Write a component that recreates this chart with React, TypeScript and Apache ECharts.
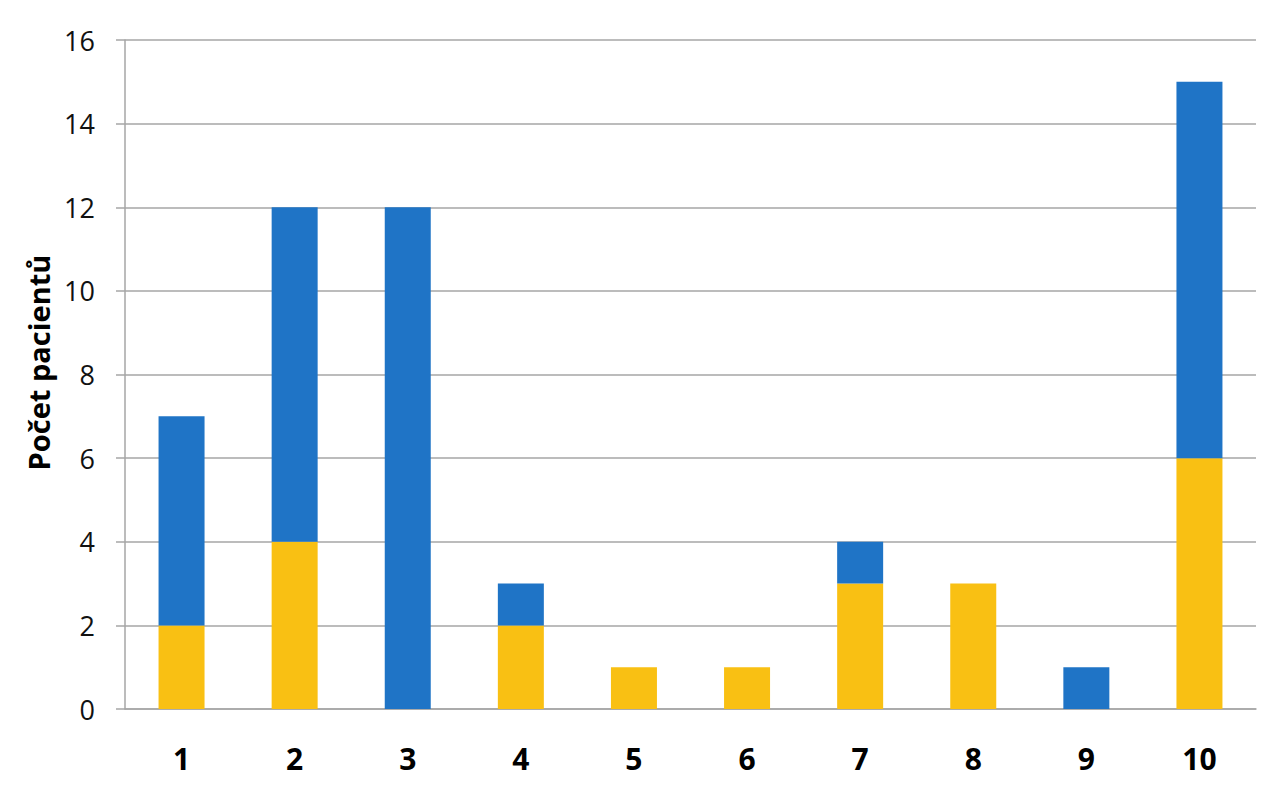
import { useEffect, useRef } from 'react';
import * as echarts from 'echarts';

const categories = ['1', '2', '3', '4', '5', '6', '7', '8', '9', '10'];
const yellowValues = [2, 4, 0, 2, 1, 1, 3, 3, 0, 6];
const blueValues = [5, 8, 12, 1, 0, 0, 1, 0, 1, 9];
const yTicks = { min: 0, max: 16, interval: 2 };

const FONT = '"Open Sans", "Liberation Sans", sans-serif';
const GRAY = '#a6a6a6';

const App = () => {
  const chartRef = useRef<HTMLDivElement>(null);

  useEffect(() => {
    if (!chartRef.current) return;
    const chart = echarts.init(chartRef.current, undefined, { renderer: 'svg' });
    chart.setOption({
      animation: false,
      grid: { left: 125, right: 19, top: 40, bottom: 91 },
      xAxis: {
        type: 'category',
        data: categories,
        axisLine: { lineStyle: { color: GRAY, width: 1.5 } },
        axisTick: { show: false },
        axisLabel: {
          color: '#000',
          fontSize: 30,
          fontWeight: 'bold',
          fontFamily: FONT,
          margin: 34,
        },
      },
      yAxis: {
        type: 'value',
        ...yTicks,
        name: 'Počet pacientů',
        nameLocation: 'middle',
        nameGap: 70,
        nameTextStyle: {
          color: '#000',
          fontSize: 29,
          fontWeight: 'bold',
          fontFamily: FONT,
          padding: [0, 0, 0, 24],
        },
        axisLine: { show: true, lineStyle: { color: GRAY, width: 1.5 } },
        axisTick: { show: true, length: 9, lineStyle: { color: GRAY, width: 1.5 } },
        splitLine: { lineStyle: { color: GRAY, width: 1.5 } },
        axisLabel: {
          color: '#111',
          fontSize: 27,
          fontFamily: FONT,
          margin: 30,
        },
      },
      series: [
        {
          name: 'Žlutá',
          type: 'bar',
          stack: 'total',
          barWidth: 46,
          data: yellowValues,
          itemStyle: { color: '#f9c013' },
        },
        {
          name: 'Modrá',
          type: 'bar',
          stack: 'total',
          barWidth: 46,
          data: blueValues,
          itemStyle: { color: '#1f74c6' },
        },
      ],
    });
    return () => {
      chart.dispose();
    };
  }, []);

  return (
    <div
      ref={chartRef}
      style={{ position: 'fixed', left: 0, top: 0, width: 1275, height: 800, background: '#fff' }}
    />
  );
};

export default App;
